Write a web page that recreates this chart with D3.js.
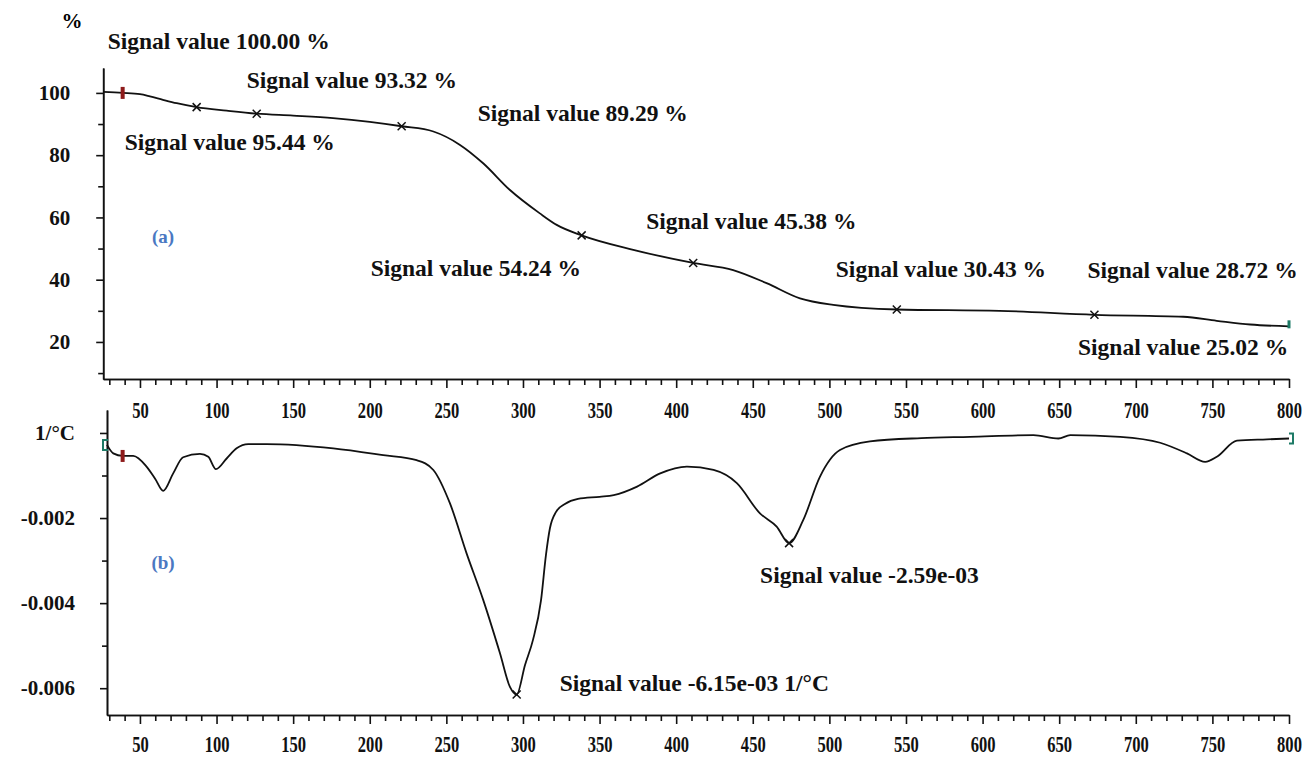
<!DOCTYPE html>
<html><head><meta charset="utf-8">
<script src="https://cdn.jsdelivr.net/npm/d3@7"></script>
<style>body{margin:0;background:#fff}svg{display:block}</style>
</head><body>
<svg id="c" width="1307" height="757"></svg>
<script>
// ---------- DATA ----------
// (a) TGA curve: temperature (°C) and mass signal (%)
const tgaTemp  = [26, 38.7, 50, 56.5, 65, 74, 87, 106.6, 126.2, 150, 176, 200, 220.8, 241.5, 258.9, 274, 291.5, 311, 322, 338.3, 372, 411.1, 437.2, 459, 480.8, 502.5, 544, 611, 673, 731, 752.8, 774.7, 800];
const tgaValue = [100.3, 100.0, 99.6, 98.9, 97.8, 96.7, 95.44, 94.3, 93.32, 92.7, 91.9, 90.7, 89.29, 87.6, 83.3, 77.4, 68.8, 61.3, 57.6, 54.24, 49.6, 45.38, 43.1, 38.9, 34.0, 31.9, 30.43, 30.0, 28.72, 28.1, 26.8, 25.6, 25.02];
// (b) DTG curve: temperature (°C) and derivative signal (1/°C)
const dtgTemp  = [28.5, 32.6, 38.7, 45.6, 54.3, 60, 65.2, 71.7, 78.2, 89.2, 94.6, 99.6, 106.6, 113.1, 120.7, 132.7, 176.2, 208.8, 230.6, 241.5, 252.3, 263.2, 274.1, 285, 291.5, 295.9, 301.3, 306.5, 311.8, 315, 317.6, 321.5, 327.4, 335.9, 350, 359.3, 374.5, 389.6, 407, 424.4, 439.6, 454.7, 465.6, 473.7, 482.9, 493.8, 506.9, 526.5, 560, 591.8, 633.2, 649.5, 657.2, 689.8, 715.9, 733.4, 745.3, 752.9, 766, 785.6, 800];
const dtgValue = [-0.00028, -0.00048, -0.00054, -0.00054, -0.00079, -0.00108, -0.00136, -0.00095, -0.00057, -0.00049, -0.00056, -0.00085, -0.00060, -0.00036, -0.00026, -0.00026, -0.00036, -0.00052, -0.00064, -0.00087, -0.00165, -0.00283, -0.00393, -0.00518, -0.00597, -0.00615, -0.00546, -0.00487, -0.00393, -0.00287, -0.00224, -0.00186, -0.00167, -0.00155, -0.00150, -0.00146, -0.00126, -0.00095, -0.00079, -0.00087, -0.00118, -0.00189, -0.00220, -0.00259, -0.00205, -0.00103, -0.00040, -0.00020, -0.00012, -0.00009, -0.00005, -0.00013, -0.00005, -0.00009, -0.00023, -0.00048, -0.00068, -0.00056, -0.00018, -0.00015, -0.00013];
// marked points
const tgaMarkTemp  = [87, 126.2, 220.8, 338.3, 411.1, 544, 673];
const tgaMarkValue = [95.44, 93.32, 89.29, 54.24, 45.38, 30.43, 28.72];
const tgaLabels = ["Signal value 100.00 %", "Signal value 95.44 %", "Signal value 93.32 %", "Signal value 89.29 %", "Signal value 54.24 %", "Signal value 45.38 %", "Signal value 30.43 %", "Signal value 28.72 %", "Signal value 25.02 %"];
const tgaLabelTemp  = [38.7, 87, 126.2, 220.8, 338.3, 411.1, 544, 673, 800];
const tgaLabelValue = [100.0, 95.44, 93.32, 89.29, 54.24, 45.38, 30.43, 28.72, 25.02];
const dtgMarkTemp  = [295.9, 473.7];
const dtgMarkValue = [-0.00615, -0.00259];
const dtgLabels = ["Signal value -6.15e-03 1/°C", "Signal value -2.59e-03"];
const startTemp = 38.7;
// ticks
const xMajorTicks = d3.range(50, 801, 50);
const xMinorTicks = d3.range(30, 800, 10).filter(v => v % 50 !== 0);
const tgaMajorTicks = [20, 40, 60, 80, 100];
const tgaMinorTicks = [10, 30, 50, 70, 90];
const dtgMajorTicks = [0, -0.002, -0.004, -0.006];
const dtgMinorTicks = [-0.001, -0.003, -0.005];

// ---------- LAYOUT ----------
const tgaLabelOffset = [[-15,-44],[-72,43],[-10,-26],[76,-5],[-211,41],[-47,-34],[-61,-32],[-7,-37],[-211,29]];
const dtgLabelOffset = [[43,-4],[-29,40]];

const svg = d3.select("#c");
const serif = "'Liberation Serif','Times New Roman',serif";

const xTop = d3.scaleLinear().domain([26, 800]).range([103.2, 1289]);
const xBot = d3.scaleLinear().domain([28.5, 800]).range([107, 1289]);
const yTop = d3.scaleLinear().domain([8.1, 108]).range([379, 68]);
const yBot = d3.scaleLinear().domain([-0.00663, 0.00054]).range([715, 410]);

function xAxes(x, y0, pad) {
  const gMin = svg.append("g").attr("transform", `translate(0,${y0})`)
    .call(d3.axisBottom(x).tickValues(xMinorTicks).tickSize(6).tickSizeOuter(0).tickFormat(""));
  const gMaj = svg.append("g").attr("transform", `translate(0,${y0})`)
    .call(d3.axisBottom(x).tickValues(xMajorTicks).tickSize(9).tickSizeOuter(0).tickPadding(pad).tickFormat(d3.format("d")));
  [gMin, gMaj].forEach(g => { g.selectAll("path,line").attr("stroke", "#111").attr("stroke-width", 1.6); });
  gMaj.selectAll("text").attr("font-family", serif).attr("font-weight", "bold").attr("font-size", 23)
    .attr("fill", "#111").attr("transform", "scale(0.72,1)");
}
function yAxes(y, x0, major, minor, fmt, pad) {
  const gMin = svg.append("g").attr("transform", `translate(${x0},0)`)
    .call(d3.axisLeft(y).tickValues(minor).tickSize(5).tickSizeOuter(0).tickFormat(""));
  const gMaj = svg.append("g").attr("transform", `translate(${x0},0)`)
    .call(d3.axisLeft(y).tickValues(major).tickSize(7).tickSizeOuter(0).tickPadding(pad).tickFormat(fmt));
  [gMin, gMaj].forEach(g => { g.selectAll("path,line").attr("stroke", "#111").attr("stroke-width", 1.6); });
  gMaj.selectAll("text").attr("font-family", serif).attr("font-weight", "bold").attr("font-size", 21).attr("fill", "#111");
}

// ---------- PANEL (a) ----------
xAxes(xTop, 379, 14);
yAxes(yTop, 103.2, tgaMajorTicks, tgaMinorTicks, d3.format("d"), 26);
svg.append("text").attr("x", 72).attr("y", 28).attr("text-anchor", "middle")
  .attr("font-family", serif).attr("font-weight", "bold").attr("font-size", 21).text("%");

const tgaData = tgaTemp.map((t, i) => [t, tgaValue[i]]);
svg.append("path").datum(tgaData)
  .attr("d", d3.line().x(d => xTop(d[0])).y(d => yTop(d[1])).curve(d3.curveMonotoneX))
  .attr("fill", "none").attr("stroke", "#111").attr("stroke-width", 1.8);

function cross(x, y) {
  svg.append("path").attr("d", `M${x-4},${y-4}L${x+4},${y+4}M${x-4},${y+4}L${x+4},${y-4}`)
    .attr("stroke", "#111").attr("stroke-width", 1.5);
}
tgaMarkTemp.forEach((t, i) => cross(xTop(t), yTop(tgaMarkValue[i])));
svg.append("rect").attr("x", xTop(startTemp) - 2).attr("y", yTop(100) - 6).attr("width", 4).attr("height", 12).attr("fill", "#8e1b1b");
svg.append("path").attr("d", `M${xTop(800)},${yTop(25.02)-6}V${yTop(25.02)+2}`).attr("stroke", "#1d7a66").attr("stroke-width", 3);

tgaLabels.forEach((s, i) => {
  svg.append("text").attr("x", xTop(tgaLabelTemp[i]) + tgaLabelOffset[i][0])
    .attr("y", yTop(tgaLabelValue[i]) + tgaLabelOffset[i][1])
    .attr("font-family", serif).attr("font-weight", "bold").attr("font-size", 23.5).attr("fill", "#111").text(s);
});
svg.append("text").attr("x", 163).attr("y", 243).attr("text-anchor", "middle")
  .attr("font-family", serif).attr("font-weight", "bold").attr("font-size", 19).attr("fill", "#4a78c2").text("(a)");

// ---------- PANEL (b) ----------
xAxes(xBot, 715, 12);
yAxes(yBot, 107, dtgMajorTicks, dtgMinorTicks, v => v === 0 ? "1/°C" : v.toFixed(3), 25);

const dtgData = dtgTemp.map((t, i) => [t, dtgValue[i]]);
svg.append("path").datum(dtgData)
  .attr("d", d3.line().x(d => xBot(d[0])).y(d => yBot(d[1])).curve(d3.curveMonotoneX))
  .attr("fill", "none").attr("stroke", "#111").attr("stroke-width", 1.8);
dtgMarkTemp.forEach((t, i) => cross(xBot(t), yBot(dtgMarkValue[i])));
const sY = yBot(dtgValue[0]), eY = yBot(dtgValue[dtgValue.length - 1]);
svg.append("path").attr("d", `M${xBot(28.5)+1},${sY-5}H${xBot(28.5)-4}V${sY+5}H${xBot(28.5)+1}`)
  .attr("fill", "none").attr("stroke", "#1d7a66").attr("stroke-width", 2);
svg.append("path").attr("d", `M${xBot(800)},${eY-5}H${xBot(800)+4}V${eY+5}H${xBot(800)}`)
  .attr("fill", "none").attr("stroke", "#1d7a66").attr("stroke-width", 2);
svg.append("rect").attr("x", xBot(startTemp) - 2).attr("y", yBot(-0.00054) - 6).attr("width", 4).attr("height", 12).attr("fill", "#8e1b1b");

dtgLabels.forEach((s, i) => {
  svg.append("text").attr("x", xBot(dtgMarkTemp[i]) + dtgLabelOffset[i][0])
    .attr("y", yBot(dtgMarkValue[i]) + dtgLabelOffset[i][1])
    .attr("font-family", serif).attr("font-weight", "bold").attr("font-size", 23.5).attr("fill", "#111").text(s);
});
svg.append("text").attr("x", 163).attr("y", 569).attr("text-anchor", "middle")
  .attr("font-family", serif).attr("font-weight", "bold").attr("font-size", 19).attr("fill", "#4a78c2").text("(b)");
</script>
</body></html>
